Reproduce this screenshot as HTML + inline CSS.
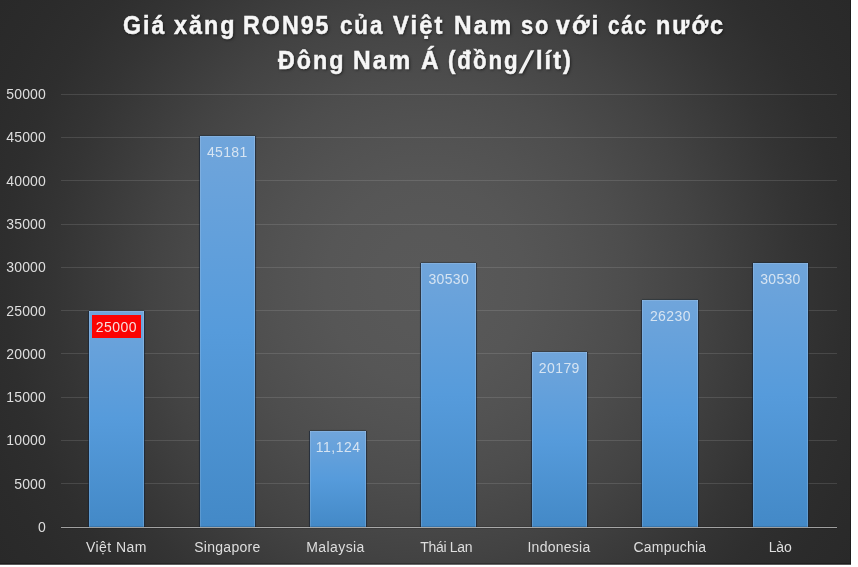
<!DOCTYPE html>
<html><head><meta charset="utf-8"><title>chart</title>
<style>
html,body{margin:0;padding:0;background:#fff;}
body{width:858px;height:567px;overflow:hidden;position:relative;font-family:"Liberation Sans",sans-serif;}
#c{position:absolute;left:0;top:0;width:851px;height:565px;overflow:hidden;box-shadow:inset -1px 0 0 rgba(0,0,0,0.28);
background:radial-gradient(circle at 425.5px 282.25px,#595959 0px,#585858 50px,#565656 100px,#525252 150px,#4d4d4d 200px,#474747 245px,#434343 275px,#3b3b3b 325px,#343434 370px,#2e2e2e 420px,#2b2b2b 465px,#292929 511px);}
#tx{position:absolute;left:0;top:0;width:851px;height:564.5px;will-change:transform;}
.g{position:absolute;height:1px;background:rgba(217,217,217,0.15);}
.ax{position:absolute;height:1px;background:rgba(225,225,225,0.64);box-shadow:0 1px 0 rgba(0,0,0,0.13),0 -1px 0 rgba(0,0,0,0.13);}
.yl{position:absolute;left:0;width:46px;text-align:right;font-size:14px;line-height:16px;height:16px;color:#dedede;letter-spacing:0.15px;}
.b{position:absolute;background:linear-gradient(to bottom,#70a5db 0%,#569bdb 50%,#4389c7 100%);box-shadow:1px 0 0.6px rgba(18,32,52,0.6),-1px 0 0.6px rgba(18,32,52,0.6),0 -1px 0.6px rgba(18,32,52,0.3),inset 1px 0 0 rgba(255,255,255,0.13),inset -1px 0 0 rgba(255,255,255,0.16),inset 0 1px 0 rgba(255,255,255,0.13);}
.d{position:absolute;font-size:14px;line-height:16px;height:16px;color:#d6e4f2;white-space:nowrap;}
.x{position:absolute;font-size:14px;line-height:16px;height:16px;color:#dedede;white-space:nowrap;}
.t{position:absolute;white-space:nowrap;font-weight:bold;font-size:25.5px;letter-spacing:2.2px;transform-origin:0 0;line-height:40px;height:40px;color:#f6f6f6;-webkit-text-stroke:0.5px #f6f6f6;text-shadow:1px 1px 3px rgba(0,0,0,0.6);}
</style></head><body><div id="c">

<div class="g" style="left:61.3px;width:775.9px;top:483.31px"></div>
<div class="g" style="left:61.3px;width:775.9px;top:440.02px"></div>
<div class="g" style="left:61.3px;width:775.9px;top:396.73px"></div>
<div class="g" style="left:61.3px;width:775.9px;top:353.44px"></div>
<div class="g" style="left:61.3px;width:775.9px;top:310.15px"></div>
<div class="g" style="left:61.3px;width:775.9px;top:266.86px"></div>
<div class="g" style="left:61.3px;width:775.9px;top:223.57px"></div>
<div class="g" style="left:61.3px;width:775.9px;top:180.28px"></div>
<div class="g" style="left:61.3px;width:775.9px;top:136.99px"></div>
<div class="g" style="left:61.3px;width:775.9px;top:93.70px"></div>
<div class="b" style="left:89.0px;width:55.1px;top:310.7px;height:216.6px"></div>
<div class="b" style="left:200.0px;width:55.1px;top:135.9px;height:391.4px"></div>
<div class="b" style="left:310.0px;width:56.2px;top:430.9px;height:96.4px"></div>
<div class="b" style="left:420.9px;width:55.3px;top:263.0px;height:264.3px"></div>
<div class="b" style="left:531.9px;width:55.2px;top:351.9px;height:175.4px"></div>
<div class="b" style="left:641.9px;width:56.0px;top:299.7px;height:227.6px"></div>
<div class="b" style="left:752.9px;width:55.2px;top:263.0px;height:264.3px"></div>
<div class="ax" style="left:61.3px;width:775.9px;top:527px"></div>
<div id="tx">
<div class="yl" style="top:518.95px">0</div>
<div class="yl" style="top:475.66px">5000</div>
<div class="yl" style="top:432.37px">10000</div>
<div class="yl" style="top:389.08px">15000</div>
<div class="yl" style="top:345.79px">20000</div>
<div class="yl" style="top:302.50px">25000</div>
<div class="yl" style="top:259.21px">30000</div>
<div class="yl" style="top:215.92px">35000</div>
<div class="yl" style="top:172.63px">40000</div>
<div class="yl" style="top:129.34px">45000</div>
<div class="yl" style="top:86.05px">50000</div>
<div style="position:absolute;left:92px;top:315px;width:49px;height:23px;background:#fb0303"></div>
<div class="d" style="left:95.85px;top:319px;letter-spacing:0.45px;color:#f6dede">25000</div>
<div class="d" style="left:206.95px;top:144px;letter-spacing:0.35px">45181</div>
<div class="d" style="left:315.80px;top:439px;letter-spacing:0.48px">11,124</div>
<div class="d" style="left:428.40px;top:271px;letter-spacing:0.34px">30530</div>
<div class="d" style="left:538.85px;top:360px;letter-spacing:0.40px">20179</div>
<div class="d" style="left:649.95px;top:308px;letter-spacing:0.40px">26230</div>
<div class="d" style="left:760.20px;top:271px;letter-spacing:0.31px">30530</div>
<div class="x" style="left:85.95px;top:539px;letter-spacing:0.44px">Việt Nam</div>
<div class="x" style="left:194.15px;top:539px;letter-spacing:0.30px">Singapore</div>
<div class="x" style="left:306.25px;top:539px;letter-spacing:0.41px">Malaysia</div>
<div class="x" style="left:420.25px;top:539px;letter-spacing:-0.31px">Thái Lan</div>
<div class="x" style="left:527.45px;top:539px;letter-spacing:0.26px">Indonesia</div>
<div class="x" style="left:633.55px;top:539px;letter-spacing:0.21px">Campuchia</div>
<div class="x" style="left:768.65px;top:539px;letter-spacing:-0.15px">Lào</div>
<div class="t" style="left:123.49px;top:4.96px;transform:scaleX(0.9079)">Giá</div>
<div class="t" style="left:174.07px;top:4.96px;transform:scaleX(0.9152)">xăng</div>
<div class="t" style="left:242.70px;top:4.96px;transform:scaleX(0.9118)">RON95</div>
<div class="t" style="left:339.92px;top:4.96px;transform:scaleX(0.8758)">của</div>
<div class="t" style="left:393.17px;top:4.96px;transform:scaleX(0.9333)">Việt</div>
<div class="t" style="left:454.12px;top:4.96px;transform:scaleX(0.9582)">Nam</div>
<div class="t" style="left:520.64px;top:4.96px;transform:scaleX(0.8567)">so</div>
<div class="t" style="left:555.96px;top:4.96px;transform:scaleX(0.9701)">với</div>
<div class="t" style="left:607.89px;top:4.96px;transform:scaleX(0.8110)">các</div>
<div class="t" style="left:655.79px;top:4.96px;transform:scaleX(0.9206)">nước</div>
<div class="t" style="left:277.80px;top:40.36px;transform:scaleX(0.9143)">Đông</div>
<div class="t" style="left:353.22px;top:40.36px;transform:scaleX(0.9618)">Nam</div>
<div class="t" style="left:420.78px;top:40.36px;transform:scaleX(0.9588)">Á</div>
<div class="t" style="left:448.41px;top:40.36px;transform:scaleX(0.8743)">(đồng</div>
<div class="t" style="left:535.58px;top:40.36px;transform:scaleX(0.9266)">lít)</div>
<svg style="position:absolute;left:510px;top:44px;filter:drop-shadow(1px 1px 1.5px rgba(0,0,0,0.55))" width="32" height="36" viewBox="510 44 32 36"><path d="M518.5 73.6 L530.7 50.2 L534.4 50.2 L522.2 73.6 Z" fill="#f2f2f2"/></svg>
</div><div style="position:absolute;left:0;top:563px;width:851px;height:1px;background:rgba(0,0,0,0.25)"></div><div style="position:absolute;left:0;top:564px;width:851px;height:1px;background:rgba(255,255,255,0.22)"></div></div></body></html>
